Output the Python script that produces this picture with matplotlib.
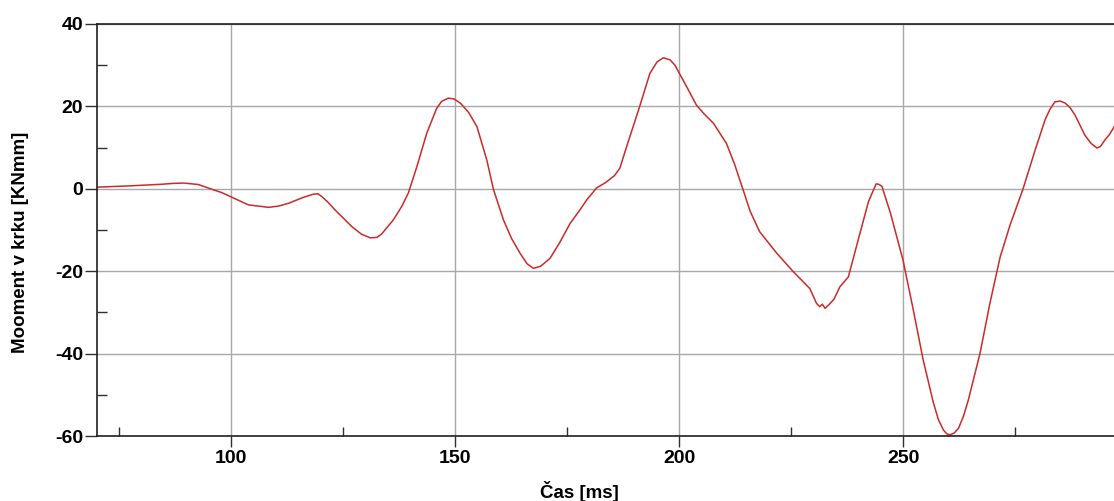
import matplotlib
matplotlib.use("Agg")
import matplotlib.pyplot as plt
from matplotlib.ticker import MultipleLocator

plt.rcParams['font.family'] = ['Liberation Sans', 'DejaVu Sans']
plt.rcParams['font.weight'] = 'bold'
plt.rcParams['axes.unicode_minus'] = False

time_ms = [70, 77, 84.4, 86.8, 89.3, 92.6, 95.6, 97.8, 100, 103.8,
           108.3, 110.5, 112.8, 116, 118.3, 119.3, 120.2, 121.5, 123.1, 126.9,
           129, 131, 132.5, 133.5, 136.1, 138, 139.5, 141.4, 143.6, 145.8,
           146.9, 148.4, 149.7, 151.1, 152.9, 154.8, 157, 158.5, 160.7, 162.5,
           164.4, 166, 167.4, 169, 171.1, 173.3, 175.6, 177.8, 179.3, 181.5,
           183.5, 185.5, 186.7, 188.2, 191.1, 193.4, 195, 196.4, 197.9, 199,
           200.2, 202, 203.8, 205.5, 207.6, 210.5, 212.3, 214.2, 215.8, 217.9,
           221.7, 225.4, 229.1, 230.6, 231.3, 231.9, 232.5, 233.3, 234.5, 235.8,
           237.7, 239.9, 242.2, 243.9, 244.5, 245.2, 247.1, 249.9, 252.2, 254.4,
           256.7, 257.8, 258.9, 259.7, 260.4, 261.3, 262.3, 263.4, 264.5, 267.1,
           269.3, 271.6, 273.8, 276.7, 279.4, 281.6, 282.7, 283.8, 285, 286.1,
           287.2, 288.3, 290.5, 291.9, 293.2, 294, 295, 296, 297]
moment_knmm = [0.4, 0.7, 1.1, 1.3, 1.4, 1.05, -0.1, -0.9, -2.0, -3.9,
               -4.5, -4.2, -3.5, -2.1, -1.3, -1.2, -1.9, -3.2, -5.1, -9.2,
               -11.0, -11.9, -11.8, -11.0, -7.6, -4.3, -1.0, 5.4, 13.5, 19.5,
               21.2, 22.0, 21.8, 20.8, 18.6, 15.1, 7.0, -0.2, -7.5, -12.0,
               -15.6, -18.2, -19.3, -18.8, -16.9, -13.0, -8.4, -5.1, -2.7, 0.2,
               1.5, 3.2, 5.0, 10.2, 19.9, 28.0, 30.8, 31.8, 31.3, 30.0,
               27.6, 24.0, 20.3, 18.2, 15.9, 11.0, 6.0, -0.2, -5.5, -10.4,
               -15.6, -20.1, -24.2, -27.8, -28.6, -28.0, -29.0, -28.2, -26.8, -23.8,
               -21.4, -12.4, -3.1, 1.2, 1.1, 0.6, -5.9, -17.3, -29.4, -41.5,
               -52.0, -56.0, -58.5, -59.5, -59.7, -59.3, -58.1, -55.2, -51.2, -39.9,
               -27.8, -16.5, -8.8, 0.0, 9.4, 16.7, 19.3, 21.1, 21.3, 20.8,
               19.7, 17.9, 13.0, 11.0, 9.9, 10.3, 11.9, 13.2, 15.0]

fig = plt.figure(figsize=(11.14, 5.01), dpi=100)
ax = fig.add_axes([0.0871, 0.1297, 0.9129, 0.8224])

ax.plot(time_ms, moment_knmm, color='#cc2a2a', linewidth=1.1)

ax.set_xlim(70, 297)
ax.set_ylim(-60, 40)
ax.xaxis.set_major_locator(MultipleLocator(50))
ax.xaxis.set_minor_locator(MultipleLocator(25))
ax.yaxis.set_major_locator(MultipleLocator(20))
ax.yaxis.set_minor_locator(MultipleLocator(10))

ax.grid(True, which='major', color='#a8a8a8', linewidth=1.0)
ax.set_axisbelow(True)

ax.tick_params(axis='y', which='major', direction='out', length=8.5, width=1,
               pad=1.5, labelsize=14, color='#303030')
ax.tick_params(axis='y', which='minor', direction='in', length=7, width=1, color='#303030')
ax.tick_params(axis='x', which='major', direction='out', length=8, width=1,
               pad=2, labelsize=14, color='#303030')
ax.tick_params(axis='x', which='minor', direction='in', length=6.5, width=1, color='#303030')

for s in ['left', 'bottom', 'top']:
    ax.spines[s].set_color('#202020')
    ax.spines[s].set_linewidth(1.2)
ax.spines['right'].set_visible(False)

ax.set_xlabel('Čas [ms]', fontsize=13.5, fontweight='bold')
ax.xaxis.set_label_coords(0.474, -0.11)
ax.set_ylabel('Mooment v krku [KNmm]', fontsize=13.5, fontweight='bold')
ax.yaxis.set_label_coords(-0.067, 0.47)

fig.savefig('out.png', dpi=100)
